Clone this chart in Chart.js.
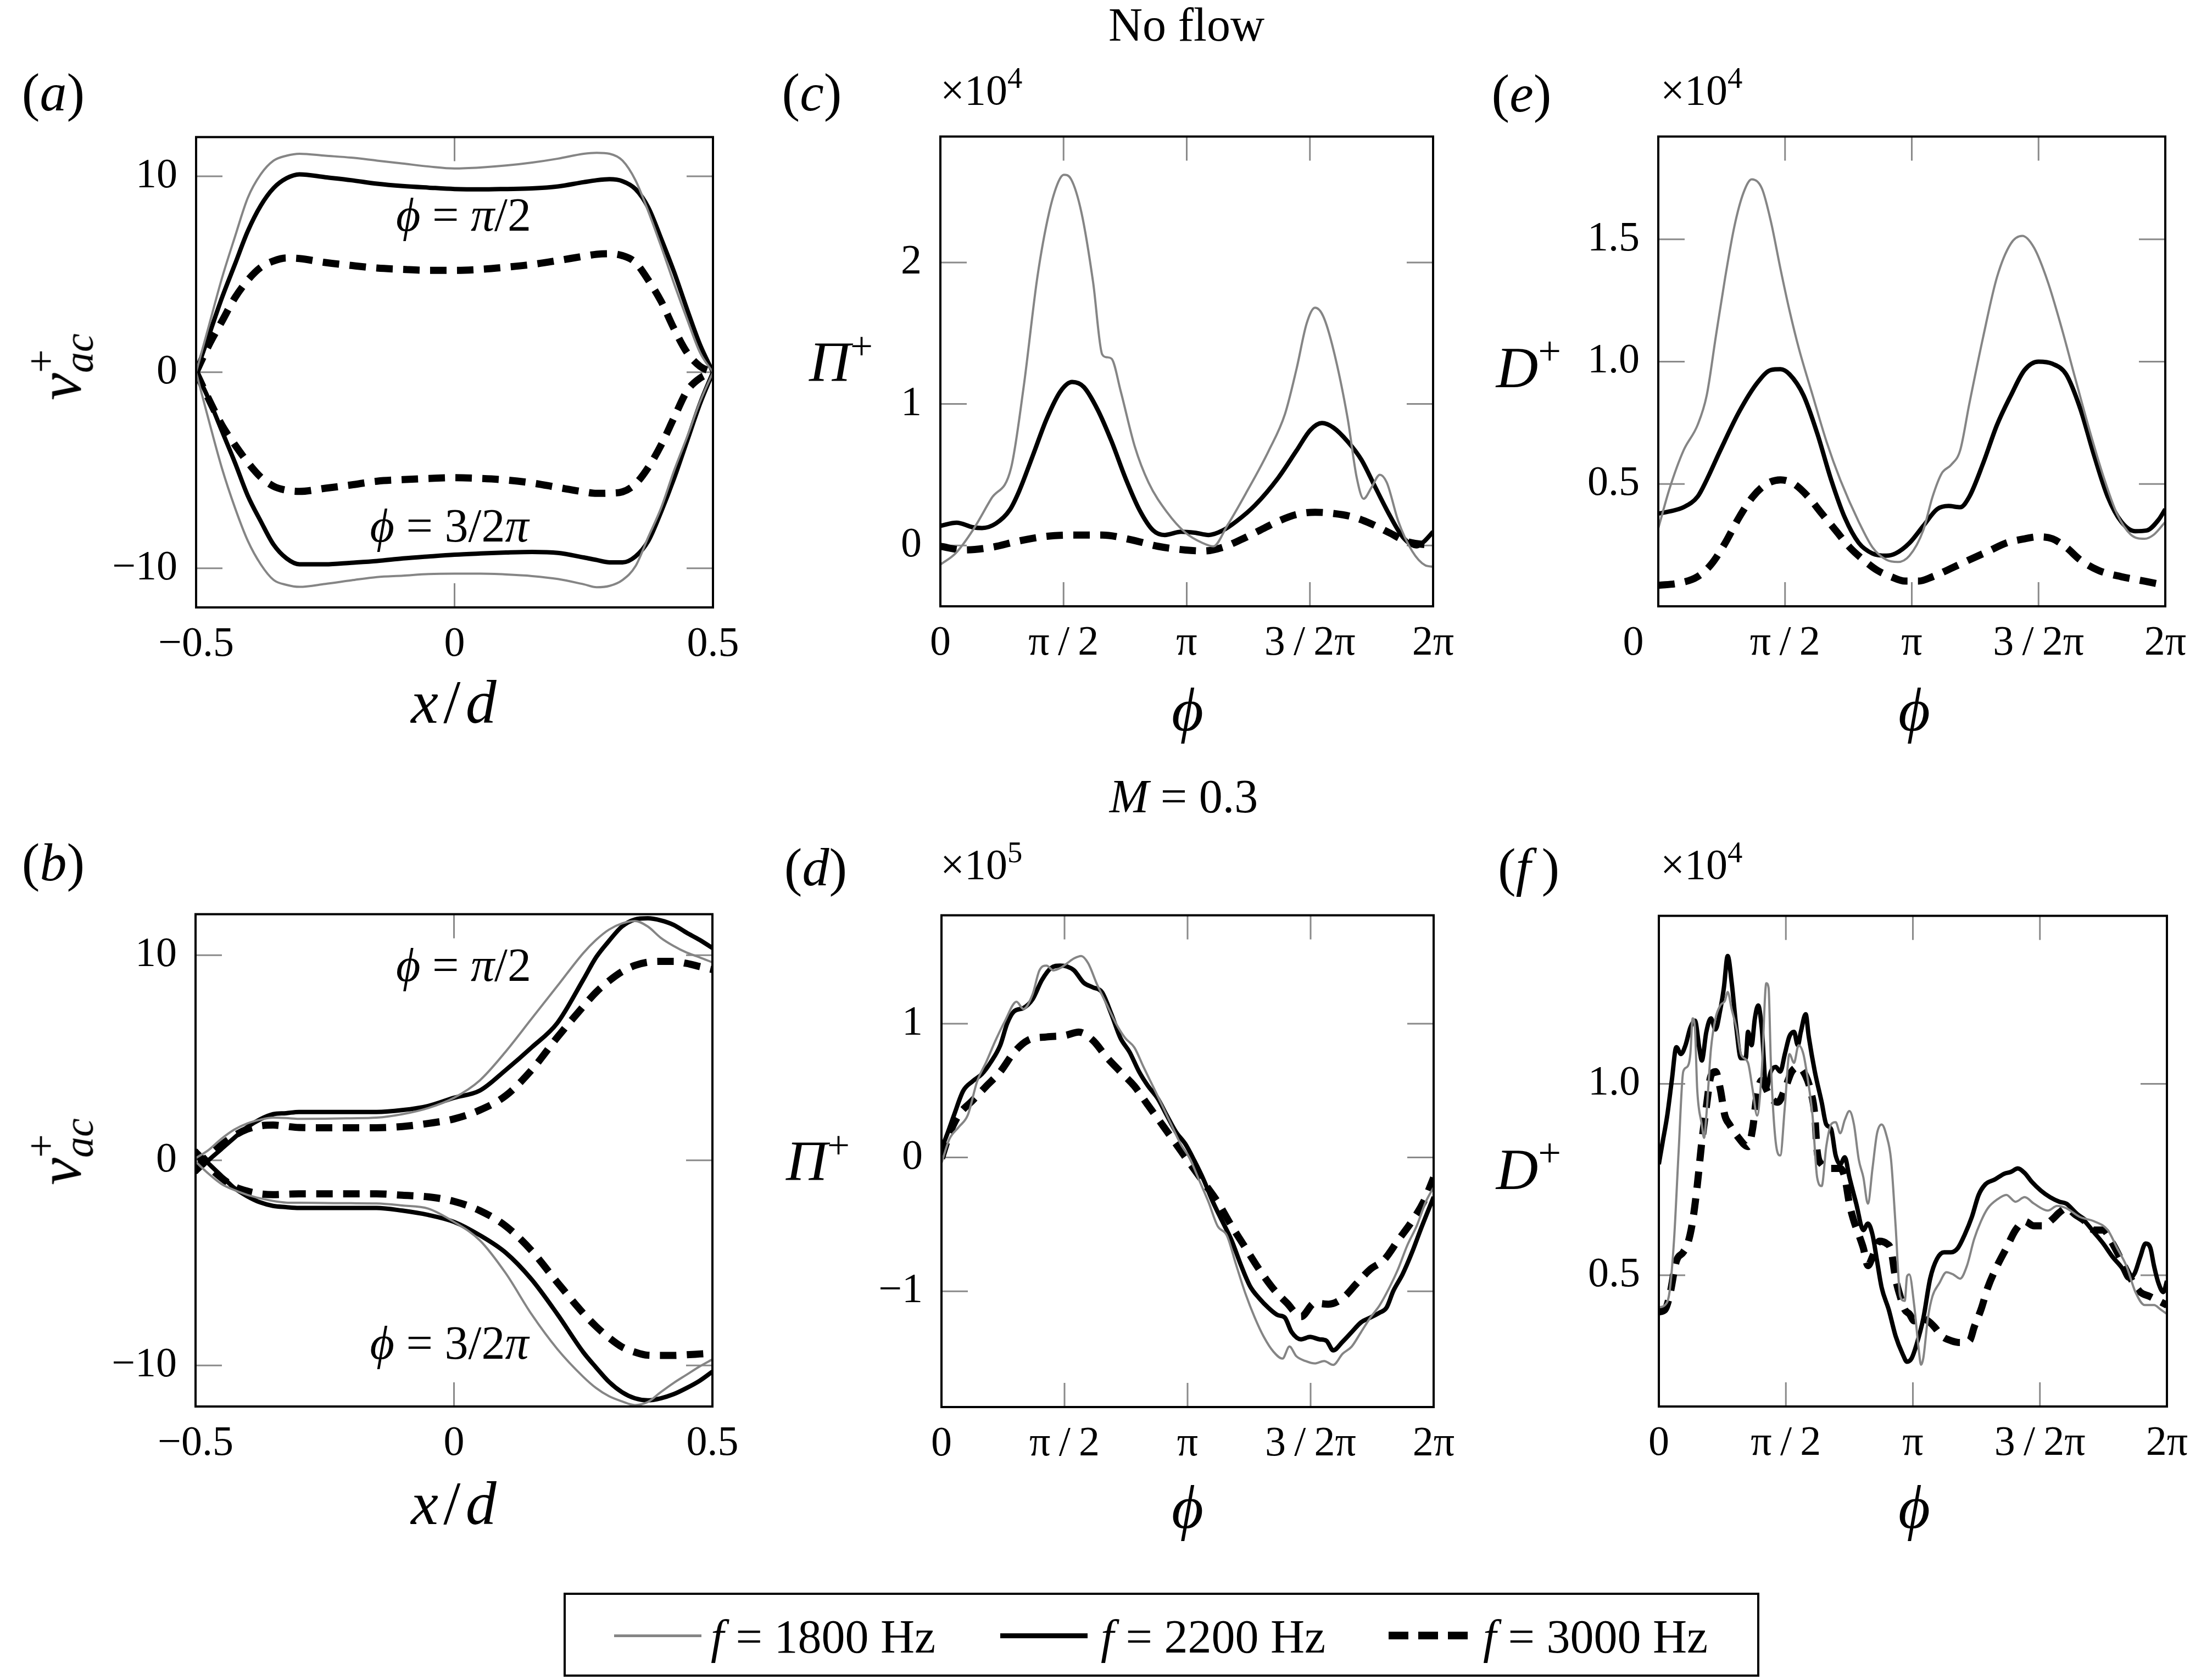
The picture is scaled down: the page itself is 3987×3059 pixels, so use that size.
<!DOCTYPE html>
<html>
<head>
<meta charset="utf-8">
<script src="https://cdn.jsdelivr.net/npm/chart.js@4.4.1/dist/chart.umd.min.js"></script>
<style>
  body { margin: 0; background: #fff; width: 3987px; height: 3059px; position: relative; overflow: hidden;
         font-family: "Liberation Serif", "Times New Roman", "DejaVu Serif", serif; color: #000; }
  canvas { position: absolute; }
  .lab { position: absolute; white-space: nowrap; line-height: 1; transform: translate(-50%, -50%); }
  .left { position: absolute; white-space: nowrap; line-height: 1; transform: translateY(-50%); }
  .ss { display: inline-block; vertical-align: -0.28em; font-size: 0.68em; line-height: 0.9; }
  .ss > * { display: block; text-align: left; }
  sup { font-size: 0.7em; vertical-align: 0.55em; line-height: 0; }
  .swatch { position: absolute; }
</style>
</head>
<body>
<canvas id="pa"></canvas><canvas id="pc"></canvas><canvas id="pe"></canvas>
<canvas id="pb"></canvas><canvas id="pd"></canvas><canvas id="pf"></canvas>

<!-- titles and panel letters -->
<div class="lab" style="left:2160px;top:45px;font-size:86px">No flow</div>
<div class="lab" style="left:2155px;top:1450px;font-size:86px"><i>M</i> = 0.3</div>
<div class="lab" style="left:97px;top:168px;font-size:98px">(<i>a</i>)</div>
<div class="lab" style="left:1478px;top:168px;font-size:98px">(<i>c</i>)</div>
<div class="lab" style="left:2770px;top:170px;font-size:98px">(<i>e</i>)</div>
<div class="lab" style="left:97px;top:1570px;font-size:98px">(<i>b</i>)</div>
<div class="lab" style="left:1485px;top:1579px;font-size:98px">(<i>d</i>)</div>
<div class="lab" style="left:2783px;top:1579px;font-size:98px">(<i>f</i>&thinsp;)</div>

<!-- multipliers -->
<div class="left" style="left:1712px;top:164px;font-size:78px">×10<sup>4</sup></div>
<div class="left" style="left:3023px;top:164px;font-size:78px">×10<sup>4</sup></div>
<div class="left" style="left:1712px;top:1574px;font-size:78px">×10<sup>5</sup></div>
<div class="left" style="left:3023px;top:1574px;font-size:78px">×10<sup>4</sup></div>

<!-- axis titles -->
<div class="lab" style="left:108px;top:668px;font-size:112px;transform:translate(-50%,-50%) rotate(-90deg)"><i>v</i><span class="ss"><span>+</span><i>ac</i></span></div>
<div class="lab" style="left:108px;top:2097px;font-size:112px;transform:translate(-50%,-50%) rotate(-90deg)"><i>v</i><span class="ss"><span>+</span><i>ac</i></span></div>
<div class="lab" style="left:1531px;top:659px;font-size:104px"><i>Π</i><sup>+</sup></div>
<div class="lab" style="left:1489px;top:2114px;font-size:104px"><i>Π</i><sup>+</sup></div>
<div class="lab" style="left:2783px;top:670px;font-size:106px"><i>D</i><sup>+</sup></div>
<div class="lab" style="left:2783px;top:2130px;font-size:106px"><i>D</i><sup>+</sup></div>
<div class="lab" style="left:826px;top:1278px;font-size:112px"><i>x</i>&#8202;/&#8202;<i>d</i></div>
<div class="lab" style="left:826px;top:2737px;font-size:112px"><i>x</i>&#8202;/&#8202;<i>d</i></div>
<div class="lab" style="left:2162px;top:1292px;font-size:112px"><i>ϕ</i></div>
<div class="lab" style="left:3485px;top:1292px;font-size:112px"><i>ϕ</i></div>
<div class="lab" style="left:2162px;top:2744px;font-size:112px"><i>ϕ</i></div>
<div class="lab" style="left:3485px;top:2744px;font-size:112px"><i>ϕ</i></div>

<!-- curve annotations -->
<div class="lab" style="left:844px;top:391px;font-size:86px"><i>ϕ</i> = <i>π</i>/2</div>
<div class="lab" style="left:818px;top:957px;font-size:86px"><i>ϕ</i> = 3/2<i>π</i></div>
<div class="lab" style="left:844px;top:1757px;font-size:86px"><i>ϕ</i> = <i>π</i>/2</div>
<div class="lab" style="left:818px;top:2445px;font-size:86px"><i>ϕ</i> = 3/2<i>π</i></div>

<!-- legend -->
<div style="position:absolute;left:1026px;top:2900px;width:2177px;height:153px;border:4px solid #000;box-sizing:border-box"></div>
<div class="swatch" style="left:1118px;top:2976px;width:159px;height:5px;background:#858585"></div>
<div class="swatch" style="left:1821px;top:2974px;width:159px;height:9px;background:#000"></div>
<div class="swatch" style="left:2528px;top:2971px;width:144px;height:14px;background:repeating-linear-gradient(to right,#000 0 36px,transparent 36px 54px)"></div>
<div class="left" style="left:1294px;top:2980px;font-size:86px"><i>f</i> = 1800 Hz</div>
<div class="left" style="left:2004px;top:2980px;font-size:86px"><i>f</i> = 2200 Hz</div>
<div class="left" style="left:2700px;top:2980px;font-size:86px"><i>f</i> = 3000 Hz</div>

<script>
// * Data

// x/d grid shared by panels (a) and (b)
const xd = [-0.5, -0.475, -0.45, -0.425, -0.4, -0.375, -0.35, -0.325, -0.3, -0.25, -0.2, -0.15, -0.1, -0.05, 0,
            0.05, 0.1, 0.15, 0.2, 0.25, 0.275, 0.3, 0.325, 0.35, 0.375, 0.4, 0.425, 0.45, 0.475, 0.5];

// (a) no flow, phi = pi/2 (up) and 3/2 pi (lo)
const aUp1800 = [0, 2.4, 4.8, 6.9, 8.9, 10.1, 10.8, 11.05, 11.15, 11.05, 10.95, 10.8, 10.65, 10.5, 10.4, 10.45, 10.55, 10.7, 10.9, 11.15, 11.2, 11.15, 10.8, 9.8, 8.2, 6.4, 4.5, 2.7, 1.0, 0];
const aUp2200 = [0, 1.9, 3.8, 5.5, 7.2, 8.5, 9.4, 9.9, 10.1, 9.95, 9.8, 9.62, 9.5, 9.42, 9.35, 9.33, 9.35, 9.38, 9.48, 9.7, 9.8, 9.85, 9.75, 9.35, 8.4, 6.8, 5.1, 3.2, 1.4, 0];
const aUp3000 = [0, 1.4, 2.6, 3.8, 4.7, 5.35, 5.68, 5.83, 5.8, 5.6, 5.45, 5.32, 5.25, 5.2, 5.2, 5.25, 5.36, 5.5, 5.7, 5.92, 6.02, 6.05, 5.95, 5.6, 4.7, 3.6, 2.2, 1.0, 0.3, 0];
const aLo1800 = [0, -2.5, -4.9, -6.9, -8.6, -9.8, -10.6, -10.85, -10.95, -10.8, -10.62, -10.45, -10.38, -10.3, -10.28, -10.28, -10.32, -10.4, -10.55, -10.82, -10.97, -10.9, -10.6, -9.9, -8.4, -6.9, -5.0, -3.3, -1.5, 0];
const aLo2200 = [0, -1.4, -3.0, -4.6, -6.3, -7.6, -8.8, -9.5, -9.8, -9.8, -9.72, -9.63, -9.5, -9.4, -9.31, -9.25, -9.2, -9.17, -9.22, -9.45, -9.58, -9.7, -9.7, -9.4, -8.6, -7.1, -5.4, -3.5, -1.6, 0];
const aLo3000 = [0, -1.4, -2.7, -3.7, -4.6, -5.35, -5.82, -6.02, -6.08, -5.92, -5.75, -5.56, -5.48, -5.42, -5.38, -5.42, -5.5, -5.65, -5.88, -6.1, -6.18, -6.17, -6.1, -5.7, -4.85, -3.7, -2.3, -0.95, -0.3, 0];

// (b) M = 0.3
const bUp1800 = [0.1, 0.5, 1.05, 1.5, 1.8, 1.98, 2.08, 2.06, 2.02, 2.03, 2.05, 2.08, 2.25, 2.55, 3.05, 3.9, 5.3, 6.9, 8.5, 10.1, 10.75, 11.25, 11.55, 11.67, 11.4, 10.85, 10.45, 10.13, 9.9, 9.65];
const bUp2200 = [-0.6, 0.0, 0.55, 1.1, 1.62, 2.0, 2.25, 2.3, 2.36, 2.36, 2.36, 2.36, 2.45, 2.65, 3.05, 3.4, 4.4, 5.5, 6.7, 8.8, 9.9, 10.7, 11.4, 11.74, 11.8, 11.7, 11.48, 11.1, 10.75, 10.35];
const bUp3000 = [-0.4, 0.2, 0.75, 1.2, 1.52, 1.68, 1.72, 1.66, 1.6, 1.59, 1.59, 1.59, 1.65, 1.8, 2.02, 2.45, 3.15, 4.4, 6.0, 7.5, 8.2, 8.75, 9.2, 9.5, 9.66, 9.7, 9.7, 9.6, 9.45, 9.3];
const bLo1800 = [-0.06, -0.65, -1.15, -1.45, -1.68, -1.85, -1.98, -2.06, -2.07, -2.08, -2.09, -2.1, -2.2, -2.35, -3.0, -3.9, -5.5, -7.5, -9.2, -10.55, -11.1, -11.5, -11.75, -11.93, -11.78, -11.3, -10.85, -10.45, -10.05, -9.7];
const bLo2200 = [0.5, -0.15, -0.75, -1.35, -1.75, -2.05, -2.22, -2.28, -2.32, -2.32, -2.32, -2.32, -2.45, -2.66, -3.0, -3.65, -4.5, -5.8, -7.5, -9.35, -10.1, -10.8, -11.3, -11.6, -11.7, -11.6, -11.4, -11.1, -10.75, -10.3];
const bLo3000 = [0.36, -0.3, -0.85, -1.28, -1.5, -1.63, -1.67, -1.65, -1.63, -1.63, -1.63, -1.63, -1.7, -1.78, -2.0, -2.45, -3.2, -4.4, -5.95, -7.45, -8.1, -8.65, -9.1, -9.35, -9.5, -9.51, -9.51, -9.48, -9.44, -9.4];

// (c) Pi+ no flow, x in units of pi, y in units of 1e4
const cPhi1800 = [0, 0.062, 0.131, 0.207, 0.287, 0.338, 0.394, 0.441, 0.479, 0.501, 0.53, 0.573, 0.62, 0.657, 0.676, 0.695, 0.732, 0.789, 0.845, 0.92, 0.995, 1.061, 1.108, 1.164, 1.239, 1.333, 1.399, 1.446, 1.487, 1.521, 1.554, 1.596, 1.653, 1.69, 1.718, 1.75, 1.784, 1.812, 1.859, 1.915, 1.968, 2.0];
const c1800 = [-0.135, -0.055, 0.106, 0.332, 0.548, 1.12, 1.9, 2.35, 2.57, 2.62, 2.59, 2.35, 1.86, 1.35, 1.33, 1.32, 1.09, 0.7, 0.445, 0.235, 0.09, 0.02, -0.006, 0.139, 0.365, 0.67, 0.93, 1.25, 1.57, 1.68, 1.62, 1.38, 0.9, 0.48, 0.33, 0.41, 0.5, 0.445, 0.17, -0.04, -0.14, -0.15];
const cPhi2200 = [0, 0.066, 0.131, 0.169, 0.225, 0.282, 0.319, 0.376, 0.432, 0.488, 0.535, 0.582, 0.638, 0.695, 0.751, 0.808, 0.864, 0.911, 0.977, 1.033, 1.089, 1.146, 1.202, 1.277, 1.371, 1.446, 1.502, 1.549, 1.596, 1.653, 1.709, 1.765, 1.822, 1.878, 1.934, 1.962, 2.0];
const c2200 = [0.139, 0.161, 0.129, 0.123, 0.155, 0.252, 0.381, 0.639, 0.897, 1.09, 1.155, 1.12, 0.961, 0.735, 0.477, 0.252, 0.106, 0.074, 0.097, 0.09, 0.074, 0.106, 0.171, 0.284, 0.477, 0.671, 0.816, 0.865, 0.832, 0.735, 0.606, 0.413, 0.219, 0.058, -0.006, 0.026, 0.097];
const cPhi3000 = [0, 0.094, 0.207, 0.319, 0.432, 0.545, 0.657, 0.77, 0.883, 0.995, 1.07, 1.146, 1.221, 1.296, 1.371, 1.446, 1.521, 1.596, 1.671, 1.746, 1.822, 1.897, 2.0];
const c3000 = [-0.006, -0.032, -0.013, 0.032, 0.065, 0.074, 0.074, 0.042, -0.006, -0.032, -0.039, -0.013, 0.042, 0.106, 0.171, 0.219, 0.235, 0.226, 0.203, 0.155, 0.09, 0.026, 0.0];

// (e) D+ no flow, y in units of 1e4
const ePhi1800 = [0, 0.045, 0.1, 0.155, 0.191, 0.227, 0.264, 0.3, 0.336, 0.369, 0.409, 0.445, 0.482, 0.518, 0.555, 0.609, 0.664, 0.718, 0.791, 0.845, 0.9, 0.945, 0.991, 1.045, 1.082, 1.118, 1.155, 1.191, 1.227, 1.282, 1.336, 1.391, 1.436, 1.482, 1.536, 1.591, 1.645, 1.7, 1.755, 1.809, 1.864, 1.918, 1.955, 2.0];
const e1800 = [0.319, 0.483, 0.638, 0.741, 0.862, 1.103, 1.345, 1.552, 1.69, 1.745, 1.707, 1.569, 1.379, 1.207, 1.052, 0.862, 0.672, 0.517, 0.345, 0.241, 0.19, 0.181, 0.207, 0.31, 0.448, 0.543, 0.578, 0.638, 0.828, 1.103, 1.345, 1.483, 1.514, 1.466, 1.328, 1.138, 0.931, 0.724, 0.534, 0.379, 0.293, 0.276, 0.293, 0.345];
const ePhi2200 = [0, 0.045, 0.1, 0.155, 0.191, 0.245, 0.318, 0.391, 0.445, 0.482, 0.518, 0.573, 0.627, 0.682, 0.736, 0.791, 0.845, 0.9, 0.936, 0.991, 1.045, 1.1, 1.145, 1.191, 1.227, 1.282, 1.336, 1.391, 1.445, 1.5, 1.555, 1.609, 1.664, 1.718, 1.773, 1.827, 1.882, 1.927, 1.973, 2.0];
const e2200 = [0.379, 0.388, 0.405, 0.448, 0.517, 0.638, 0.793, 0.914, 0.966, 0.969, 0.948, 0.862, 0.707, 0.517, 0.362, 0.259, 0.216, 0.207, 0.216, 0.259, 0.328, 0.397, 0.41, 0.405, 0.448, 0.586, 0.741, 0.862, 0.966, 1.0, 0.991, 0.948, 0.81, 0.621, 0.448, 0.345, 0.307, 0.31, 0.353, 0.397];
const ePhi3000 = [0, 0.082, 0.155, 0.209, 0.264, 0.318, 0.373, 0.427, 0.482, 0.536, 0.591, 0.645, 0.7, 0.755, 0.809, 0.864, 0.918, 0.973, 1.027, 1.082, 1.155, 1.227, 1.3, 1.373, 1.445, 1.5, 1.555, 1.609, 1.664, 1.736, 1.827, 1.918, 2.0];
const e3000 = [0.086, 0.095, 0.121, 0.172, 0.259, 0.362, 0.448, 0.5, 0.517, 0.5, 0.448, 0.379, 0.31, 0.241, 0.19, 0.147, 0.121, 0.103, 0.103, 0.121, 0.155, 0.19, 0.224, 0.259, 0.276, 0.284, 0.276, 0.241, 0.19, 0.147, 0.121, 0.103, 0.086];

// (d) Pi+ M = 0.3, y in units of 1e5
const dPhi1800 = [0, 0.032, 0.07, 0.107, 0.145, 0.182, 0.22, 0.258, 0.305, 0.333, 0.37, 0.398, 0.427, 0.455, 0.483, 0.511, 0.539, 0.568, 0.596, 0.633, 0.671, 0.709, 0.746, 0.784, 0.821, 0.859, 0.897, 0.934, 0.972, 1.009, 1.047, 1.085, 1.122, 1.16, 1.197, 1.235, 1.273, 1.31, 1.348, 1.386, 1.414, 1.442, 1.479, 1.517, 1.555, 1.592, 1.63, 1.667, 1.705, 1.743, 1.78, 1.818, 1.855, 1.893, 1.931, 1.968, 2.0];
const d1800 = [-0.043, 0.137, 0.227, 0.317, 0.569, 0.714, 0.876, 1.02, 1.164, 1.11, 1.218, 1.398, 1.434, 1.398, 1.416, 1.452, 1.488, 1.506, 1.452, 1.29, 1.146, 1.002, 0.894, 0.822, 0.677, 0.533, 0.389, 0.245, 0.101, -0.007, -0.169, -0.332, -0.512, -0.584, -0.8, -1.016, -1.196, -1.341, -1.449, -1.503, -1.413, -1.485, -1.521, -1.539, -1.521, -1.55, -1.467, -1.413, -1.305, -1.196, -1.106, -0.98, -0.836, -0.656, -0.512, -0.332, -0.223];
const dPhi2200 = [0, 0.023, 0.051, 0.088, 0.126, 0.164, 0.201, 0.239, 0.267, 0.295, 0.333, 0.37, 0.408, 0.445, 0.483, 0.511, 0.539, 0.577, 0.615, 0.652, 0.69, 0.727, 0.765, 0.803, 0.84, 0.878, 0.915, 0.953, 0.991, 1.028, 1.066, 1.103, 1.141, 1.179, 1.216, 1.254, 1.291, 1.329, 1.367, 1.395, 1.423, 1.461, 1.498, 1.536, 1.564, 1.592, 1.63, 1.667, 1.705, 1.743, 1.78, 1.808, 1.836, 1.874, 1.912, 1.949, 2.0];
const d2200 = [0.065, 0.173, 0.317, 0.497, 0.569, 0.623, 0.714, 0.84, 1.002, 1.092, 1.117, 1.182, 1.326, 1.416, 1.434, 1.427, 1.398, 1.308, 1.272, 1.236, 1.074, 0.894, 0.786, 0.641, 0.533, 0.443, 0.317, 0.191, 0.101, -0.025, -0.169, -0.332, -0.476, -0.62, -0.8, -0.962, -1.052, -1.124, -1.178, -1.196, -1.305, -1.359, -1.341, -1.359, -1.369, -1.441, -1.377, -1.305, -1.232, -1.196, -1.16, -1.124, -0.998, -0.872, -0.71, -0.53, -0.295];
const dPhi3000 = [0, 0.032, 0.07, 0.126, 0.182, 0.239, 0.295, 0.351, 0.427, 0.502, 0.558, 0.615, 0.671, 0.727, 0.784, 0.84, 0.897, 0.953, 1.009, 1.066, 1.122, 1.179, 1.235, 1.291, 1.348, 1.404, 1.461, 1.517, 1.573, 1.63, 1.686, 1.742, 1.799, 1.855, 1.912, 1.959, 2.0];
const d3000 = [-0.007, 0.173, 0.317, 0.425, 0.533, 0.641, 0.786, 0.876, 0.901, 0.912, 0.937, 0.876, 0.75, 0.641, 0.533, 0.389, 0.245, 0.101, -0.043, -0.187, -0.332, -0.512, -0.674, -0.836, -0.98, -1.088, -1.189, -1.088, -1.096, -1.052, -0.944, -0.836, -0.764, -0.62, -0.476, -0.332, -0.151];

// (f) D+ M = 0.3, y in units of 1e4
const fPhi1800 = [0, 0.024, 0.042, 0.06, 0.078, 0.096, 0.111, 0.124, 0.133, 0.142, 0.151, 0.169, 0.178, 0.187, 0.205, 0.223, 0.242, 0.26, 0.271, 0.287, 0.305, 0.323, 0.351, 0.369, 0.387, 0.405, 0.423, 0.432, 0.441, 0.46, 0.478, 0.496, 0.514, 0.532, 0.55, 0.569, 0.587, 0.605, 0.623, 0.641, 0.659, 0.678, 0.696, 0.714, 0.732, 0.75, 0.768, 0.787, 0.805, 0.823, 0.841, 0.859, 0.877, 0.896, 0.914, 0.932, 0.95, 0.968, 0.977, 0.986, 1.005, 1.023, 1.032, 1.041, 1.059, 1.077, 1.104, 1.132, 1.159, 1.186, 1.213, 1.241, 1.268, 1.295, 1.332, 1.368, 1.404, 1.44, 1.477, 1.531, 1.568, 1.604, 1.658, 1.713, 1.767, 1.804, 1.84, 1.876, 1.913, 1.949, 1.976, 2.0];
const f1800 = [0.416, 0.422, 0.456, 0.594, 0.825, 1.032, 1.044, 1.078, 1.171, 1.147, 0.986, 0.894, 0.859, 0.917, 1.09, 1.171, 1.205, 1.217, 1.24, 1.194, 1.147, 1.078, 1.055, 0.986, 0.917, 1.032, 1.263, 1.251, 1.055, 0.848, 0.813, 0.94, 1.078, 1.055, 1.101, 1.078, 1.009, 0.917, 0.756, 0.733, 0.836, 0.894, 0.9, 0.871, 0.906, 0.929, 0.894, 0.802, 0.756, 0.687, 0.779, 0.871, 0.894, 0.865, 0.802, 0.629, 0.445, 0.433, 0.497, 0.502, 0.422, 0.306, 0.266, 0.283, 0.387, 0.445, 0.479, 0.508, 0.502, 0.491, 0.525, 0.594, 0.641, 0.675, 0.698, 0.71, 0.692, 0.704, 0.687, 0.669, 0.681, 0.675, 0.652, 0.641, 0.618, 0.571, 0.525, 0.456, 0.422, 0.422, 0.41, 0.399];
const fPhi2200 = [0, 0.015, 0.033, 0.051, 0.069, 0.087, 0.105, 0.124, 0.142, 0.16, 0.169, 0.187, 0.205, 0.223, 0.242, 0.256, 0.271, 0.287, 0.305, 0.323, 0.342, 0.351, 0.365, 0.378, 0.391, 0.405, 0.423, 0.441, 0.46, 0.478, 0.496, 0.514, 0.532, 0.547, 0.559, 0.578, 0.59, 0.614, 0.641, 0.659, 0.678, 0.696, 0.714, 0.732, 0.75, 0.777, 0.805, 0.823, 0.841, 0.859, 0.877, 0.905, 0.932, 0.959, 0.977, 0.995, 1.014, 1.041, 1.068, 1.095, 1.123, 1.15, 1.177, 1.204, 1.232, 1.259, 1.286, 1.322, 1.359, 1.386, 1.413, 1.44, 1.468, 1.504, 1.54, 1.577, 1.604, 1.64, 1.677, 1.713, 1.749, 1.786, 1.822, 1.849, 1.873, 1.895, 1.916, 1.935, 1.949, 1.967, 1.986, 2.0];
const f2200 = [0.79, 0.848, 0.917, 1.009, 1.096, 1.078, 1.101, 1.147, 1.165, 1.09, 1.061, 1.136, 1.171, 1.142, 1.194, 1.251, 1.334, 1.263, 1.147, 1.067, 1.067, 1.136, 1.101, 1.171, 1.205, 1.147, 0.986, 1.032, 1.044, 1.032, 1.078, 1.124, 1.136, 1.101, 1.136, 1.182, 1.124, 1.032, 0.952, 0.894, 0.882, 0.813, 0.79, 0.808, 0.756, 0.687, 0.618, 0.635, 0.606, 0.537, 0.468, 0.41, 0.341, 0.295, 0.274, 0.283, 0.318, 0.387, 0.491, 0.543, 0.56, 0.56, 0.571, 0.606, 0.652, 0.71, 0.738, 0.75, 0.765, 0.77, 0.779, 0.767, 0.744, 0.721, 0.704, 0.692, 0.687, 0.664, 0.641, 0.612, 0.583, 0.548, 0.52, 0.491, 0.505, 0.548, 0.583, 0.571, 0.525, 0.479, 0.456, 0.485];
const fPhi3000 = [0, 0.024, 0.042, 0.069, 0.096, 0.114, 0.133, 0.151, 0.169, 0.187, 0.205, 0.223, 0.242, 0.26, 0.278, 0.314, 0.351, 0.369, 0.387, 0.405, 0.423, 0.441, 0.469, 0.496, 0.523, 0.55, 0.578, 0.596, 0.614, 0.623, 0.641, 0.678, 0.714, 0.732, 0.75, 0.768, 0.787, 0.805, 0.823, 0.841, 0.868, 0.896, 0.914, 0.932, 0.95, 0.968, 0.986, 1.005, 1.032, 1.059, 1.086, 1.114, 1.15, 1.186, 1.223, 1.241, 1.268, 1.295, 1.332, 1.368, 1.404, 1.44, 1.477, 1.513, 1.549, 1.577, 1.604, 1.64, 1.677, 1.713, 1.749, 1.786, 1.822, 1.858, 1.895, 1.931, 1.967, 2.0];
const f3000 = [0.404, 0.41, 0.445, 0.537, 0.56, 0.583, 0.641, 0.733, 0.848, 0.94, 1.021, 1.032, 0.986, 0.917, 0.894, 0.859, 0.836, 0.882, 0.975, 1.009, 0.986, 0.963, 0.952, 0.986, 1.032, 1.044, 1.021, 0.986, 0.917, 0.825, 0.79, 0.779, 0.779, 0.756, 0.687, 0.641, 0.606, 0.571, 0.525, 0.548, 0.589, 0.583, 0.566, 0.491, 0.445, 0.41, 0.399, 0.381, 0.387, 0.381, 0.364, 0.341, 0.329, 0.324, 0.329, 0.364, 0.41, 0.468, 0.525, 0.571, 0.618, 0.641, 0.629, 0.629, 0.646, 0.664, 0.675, 0.658, 0.641, 0.618, 0.618, 0.583, 0.537, 0.491, 0.456, 0.445, 0.433, 0.422];

// * Tick values and labels
const xdTicks = [-0.5, 0, 0.5];
const xdLabels = ['\u22120.5', '0', '0.5'];
const phiTicks = [0, 0.5, 1, 1.5, 2];
const phiLabels = ['0', '\u03c0\u2009/\u20092', '\u03c0', '3\u2009/\u20092\u03c0', '2\u03c0'];
const phiLabelsE = ['0\u2003\u2009', '\u03c0\u2009/\u20092', '\u03c0', '3\u2009/\u20092\u03c0', '2\u03c0'];
const vTicks = [-10, 0, 10];
const vLabels = ['\u221210', '0', '10'];
const cTicks = [0, 1, 2];
const cLabels = ['0', '1', '2'];
const eTicks = [0.5, 1.0, 1.5];
const eLabels = ['0.5', '1.0', '1.5'];
const dTicks = [-1, 0, 1];
const dLabels = ['\u22121', '0', '1'];
const fTicks = [0.5, 1.0];
const fLabels = ['0.5', '1.0'];

// * Styles and layout
const SERIF = '"Liberation Serif", "Times New Roman", "DejaVu Serif", serif';
const PAD_L = 240, PAD_R = 80, PAD_T = 50, PAD_B = 130;
const STYLE = {
    1800: { borderColor: '#858585', borderWidth: 4 },
    2200: { borderColor: '#000000', borderWidth: 8 },
    3000: { borderColor: '#000000', borderWidth: 13, borderDash: [30, 19] }
};

function line(xs, ys, f) {
    return Object.assign({
        data: xs.map((x, i) => ({ x: x, y: ys[i] })),
        pointRadius: 0,
        fill: false,
        cubicInterpolationMode: 'monotone'
    }, STYLE[f]);
}

// box outline and inward tick marks like pgfplots
const frame = {
    id: 'frame',
    beforeDatasetsDraw(chart) {
        const { ctx, chartArea: a, scales: { x, y } } = chart;
        ctx.save();
        ctx.strokeStyle = '#8a8a8a';
        ctx.lineWidth = 3;
        ctx.beginPath();
        x.ticks.forEach(t => {
            const p = x.getPixelForValue(t.value);
            ctx.moveTo(p, a.bottom); ctx.lineTo(p, a.bottom - 44);
            ctx.moveTo(p, a.top); ctx.lineTo(p, a.top + 44);
        });
        y.ticks.forEach(t => {
            const p = y.getPixelForValue(t.value);
            ctx.moveTo(a.left, p); ctx.lineTo(a.left + 48, p);
            ctx.moveTo(a.right, p); ctx.lineTo(a.right - 48, p);
        });
        ctx.stroke();
        ctx.restore();
    },
    afterDatasetsDraw(chart) {
        const { ctx, chartArea: a } = chart;
        ctx.save();
        ctx.strokeStyle = '#000';
        ctx.lineWidth = 4;
        ctx.strokeRect(a.left, a.top, a.right - a.left, a.bottom - a.top);
        ctx.restore();
    }
};

function axis(min, max, ticks, labels, horizontal) {
    return {
        type: 'linear',
        min: min,
        max: max,
        afterBuildTicks: s => { s.ticks = ticks.map(v => ({ value: v })); },
        afterFit: s => { if (horizontal) s.height = PAD_B; else s.width = PAD_L; },
        grid: { display: false, drawTicks: false },
        border: { display: false },
        ticks: {
            autoSkip: false,
            maxRotation: 0,
            padding: horizontal ? 22 : 34,
            color: '#000',
            font: { family: SERIF, size: 76 },
            callback: (v, i) => labels[i]
        }
    };
}

function panel(id, box, xScale, yScale, datasets) {
    const cv = document.getElementById(id);
    const w = box.R - box.L + PAD_L + PAD_R;
    const h = box.B - box.T + PAD_T + PAD_B;
    cv.width = w; cv.height = h;
    cv.style.left = (box.L - PAD_L) + 'px';
    cv.style.top = (box.T - PAD_T) + 'px';
    cv.style.width = w + 'px';
    cv.style.height = h + 'px';
    return new Chart(cv, {
        type: 'line',
        data: { datasets: datasets },
        options: {
            responsive: false,
            animation: false,
            layout: { padding: { left: 0, right: PAD_R, top: PAD_T, bottom: 0 } },
            plugins: { legend: { display: false }, tooltip: { enabled: false } },
            scales: { x: xScale, y: yScale }
        },
        plugins: [frame]
    });
}

// * Render panels
panel('pa', { L: 357, R: 1298, T: 220, B: 1106 },
    axis(-0.5, 0.5, xdTicks, xdLabels, true), axis(-12, 12, vTicks, vLabels, false),
    [line(xd, aUp1800, 1800), line(xd, aLo1800, 1800), line(xd, aUp2200, 2200), line(xd, aLo2200, 2200),
     line(xd, aUp3000, 3000), line(xd, aLo3000, 3000)]);

panel('pb', { L: 356, R: 1297, T: 1635, B: 2561 },
    axis(-0.5, 0.5, xdTicks, xdLabels, true), axis(-12, 12, vTicks, vLabels, false),
    [line(xd, bUp1800, 1800), line(xd, bLo1800, 1800), line(xd, bUp2200, 2200), line(xd, bLo2200, 2200),
     line(xd, bUp3000, 3000), line(xd, bLo3000, 3000)]);

panel('pc', { L: 1712, R: 2609, T: 219, B: 1104 },
    axis(0, 2, phiTicks, phiLabels, true), axis(-0.43, 2.89, cTicks, cLabels, false),
    [line(cPhi1800, c1800, 1800), line(cPhi2200, c2200, 2200), line(cPhi3000, c3000, 3000)]);

panel('pe', { L: 3019, R: 3942, T: 219, B: 1104 },
    axis(0, 2, phiTicks, phiLabelsE, true), axis(0.0, 1.92, eTicks, eLabels, false),
    [line(ePhi1800, e1800, 1800), line(ePhi2200, e2200, 2200), line(ePhi3000, e3000, 3000)]);

panel('pd', { L: 1714, R: 2610, T: 1637, B: 2562 },
    axis(0, 2, phiTicks, phiLabels, true), axis(-1.865, 1.81, dTicks, dLabels, false),
    [line(dPhi1800, d1800, 1800), line(dPhi2200, d2200, 2200), line(dPhi3000, d3000, 3000)]);

panel('pf', { L: 3020, R: 3945, T: 1638, B: 2561 },
    axis(0, 2, phiTicks, phiLabels, true), axis(0.157, 1.439, fTicks, fLabels, false),
    [line(fPhi1800, f1800, 1800), line(fPhi2200, f2200, 2200), line(fPhi3000, f3000, 3000)]);
</script>
</body>
</html>
